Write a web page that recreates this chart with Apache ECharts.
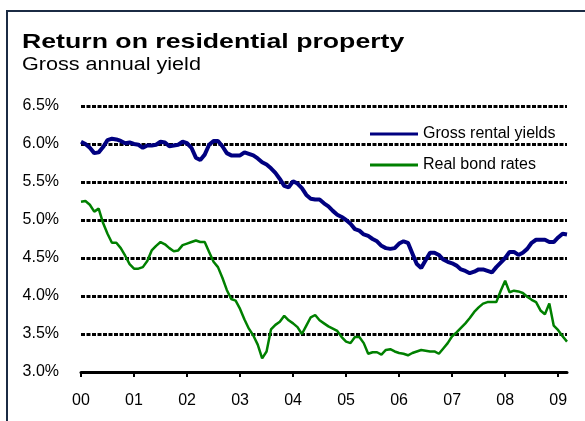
<!DOCTYPE html>
<html>
<head>
<meta charset="utf-8">
<script src="https://cdn.jsdelivr.net/npm/echarts@6/dist/echarts.min.js"></script>
<style>
html,body{margin:0;padding:0;background:#fff;}
#chart{width:585px;height:421px;}
</style>
</head>
<body>
<div id="chart"></div>
<script>
// Year tick labels (one every 12 months, starting Jan 2000)
var yearLabels = ['00','01','02','03','04','05','06','07','08','09'];
var monthsPerYear = 12;
var lastYearMonths = 3; // Jan-Mar 2009

// Gross rental yields, monthly, Jan 2000 - Mar 2009 (%)
var grossRentalYields = [
  6.03,6.00,5.95,5.88,5.89,5.96,6.05,6.07,6.06,6.04,6.01,6.02,
  6.00,5.99,5.95,5.98,5.98,5.99,6.03,6.02,5.97,5.98,5.99,6.03,
  6.01,5.95,5.82,5.79,5.86,5.99,6.04,6.04,5.97,5.88,5.85,5.85,
  5.85,5.89,5.87,5.85,5.81,5.76,5.73,5.68,5.62,5.54,5.45,5.43,
  5.51,5.48,5.42,5.33,5.28,5.27,5.27,5.22,5.18,5.12,5.07,5.04,
  5.00,4.95,4.88,4.86,4.81,4.79,4.75,4.72,4.66,4.63,4.62,4.63,
  4.69,4.72,4.70,4.56,4.42,4.37,4.47,4.57,4.57,4.54,4.48,4.45,
  4.43,4.40,4.35,4.33,4.30,4.32,4.35,4.35,4.33,4.31,4.38,4.44,
  4.50,4.58,4.58,4.54,4.57,4.62,4.70,4.74,4.74,4.74,4.71,4.71,
  4.77,4.82,4.81
];

// Real bond rates, monthly, Jan 2000 - Mar 2009 (%)
var realBondRates = [
  5.24,5.25,5.20,5.11,5.15,4.96,4.82,4.70,4.70,4.63,4.53,4.42,
  4.36,4.36,4.38,4.46,4.60,4.66,4.71,4.68,4.63,4.59,4.60,4.67,
  4.69,4.71,4.73,4.71,4.71,4.58,4.45,4.38,4.24,4.08,3.96,3.94,
  3.83,3.69,3.57,3.48,3.36,3.18,3.27,3.56,3.62,3.66,3.74,3.68,
  3.64,3.59,3.50,3.61,3.72,3.75,3.68,3.64,3.60,3.57,3.54,3.46,
  3.40,3.38,3.46,3.46,3.38,3.24,3.26,3.26,3.23,3.29,3.30,3.27,
  3.25,3.24,3.22,3.25,3.27,3.29,3.28,3.27,3.27,3.24,3.31,3.38,
  3.47,3.52,3.58,3.64,3.71,3.79,3.85,3.90,3.92,3.92,3.92,4.07,
  4.20,4.05,4.07,4.06,4.04,3.99,3.95,3.92,3.81,3.76,3.90,3.61,
  3.55,3.47,3.40
];

var seriesNames = ['Gross rental yields', 'Real bond rates'];
var titleText = 'Return on residential property';
var subtitleText = 'Gross annual yield';

// Build monthly category list from year labels
var categories = [];
for (var y = 0; y < yearLabels.length; y++) {
  var n = (y === yearLabels.length - 1) ? lastYearMonths : monthsPerYear;
  for (var m = 0; m < n; m++) categories.push(yearLabels[y] + '-' + (m + 1));
}

var chart = echarts.init(document.getElementById('chart'), null, {renderer: 'canvas'});
var font = 'Liberation Sans, Arial, sans-serif';

chart.setOption({
  animation: false,
  backgroundColor: '#ffffff',
  graphic: [
    {type: 'polyline', shape: {points: [[7, 421], [7, 11], [585, 11]]},
     style: {stroke: '#1b2b44', lineWidth: 2, fill: null}, silent: true},
    {type: 'text', x: 22, y: 42, scaleX: 1.27, silent: true,
     style: {text: titleText, font: 'bold 21px ' + font, fill: '#000', verticalAlign: 'middle'}},
    {type: 'text', x: 22, y: 65, scaleX: 1.2, silent: true,
     style: {text: subtitleText, font: '18px ' + font, fill: '#000', verticalAlign: 'middle'}}
  ],
  legend: {
    orient: 'vertical', left: 370, top: 125, padding: 0,
    itemWidth: 48, itemHeight: 3, itemGap: 13,
    icon: 'rect',
    textStyle: {fontFamily: font, fontSize: 16, color: '#000', lineHeight: 18},
    data: seriesNames
  },
  grid: {left: 81, right: 18, top: 106, bottom: 49, containLabel: false},
  xAxis: {
    type: 'category', data: categories, boundaryGap: false,
    axisLine: {lineStyle: {color: '#000', width: 3}},
    axisTick: {show: true, interval: 11, length: 5, inside: false, lineStyle: {color: '#000', width: 2}},
    axisLabel: {interval: 11, margin: 21, fontFamily: font, fontSize: 16, color: '#000',
      formatter: function (v) { return v.split('-')[0]; }},
    splitLine: {show: false}
  },
  yAxis: {
    type: 'value', min: 3.0, max: 6.5, interval: 0.5,
    axisLine: {show: false}, axisTick: {show: false},
    axisLabel: {margin: 22, fontFamily: font, fontSize: 16, color: '#000',
      formatter: function (v) { return v.toFixed(1) + '%'; }},
    splitLine: {show: true, lineStyle: {color: '#000', width: 3, type: [4, 1.5]}}
  },
  series: [
    {name: seriesNames[0], type: 'line', data: grossRentalYields, symbol: 'none',
     lineStyle: {color: '#000080', width: 4}, itemStyle: {color: '#000080'}, z: 3},
    {name: seriesNames[1], type: 'line', data: realBondRates, symbol: 'none',
     lineStyle: {color: '#008000', width: 2.5}, itemStyle: {color: '#008000'}, z: 2}
  ]
});
</script>
</body>
</html>
